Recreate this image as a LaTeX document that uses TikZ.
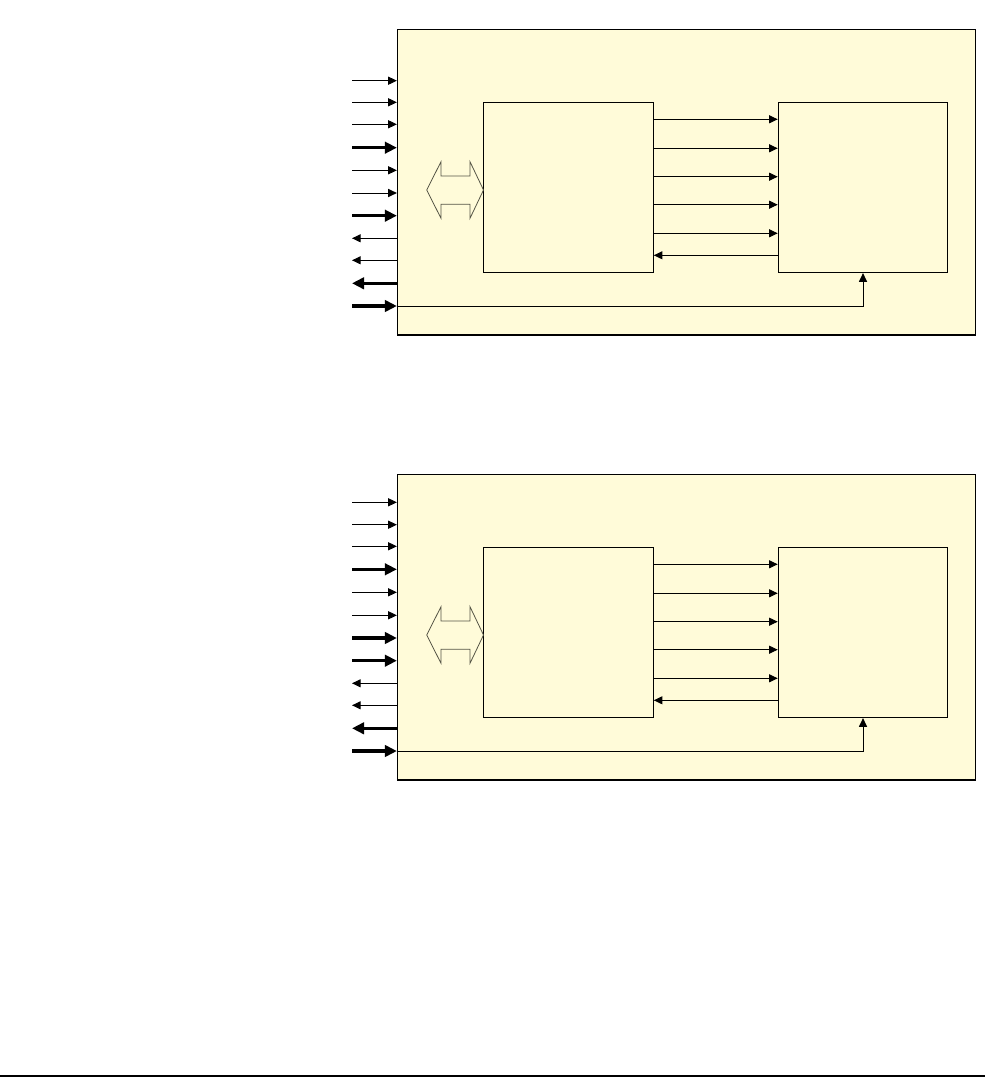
\documentclass[tikz,border=0pt]{standalone}
\usetikzlibrary{arrows.meta}
\definecolor{panelfill}{RGB}{255,251,217}
\definecolor{dblgray}{RGB}{85,85,70}
\tikzset{
  box/.style={draw=black, line width=0.9pt, inner sep=0pt, fill=panelfill,
    minimum width=433.5pt, minimum height=229.1pt},
  unit/.style={draw=black, line width=0.9pt, inner sep=0pt,
    minimum width=127pt, minimum height=127.5pt},
  sigin/.style={line width=0.75pt, -{Triangle[length=6.5pt,width=6pt]}},
  sigbig/.style={line width=2.5pt, -{Triangle[length=9pt,width=8.5pt]}},
  sigout/.style={line width=0.75pt, {Triangle[length=6.5pt,width=6pt]}-},
  sigbigout/.style={line width=2.5pt, {Triangle[length=9pt,width=8.5pt]}-},
  link/.style={line width=0.75pt, -{Triangle[length=6.5pt,width=6pt]}},
  dbl/.style={draw=dblgray, line width=0.6pt, line join=miter},
}
\newcommand\drawpanel[3]{%
  \begin{scope}[shift={(0,#2)}]
    \node[box] (outer#1) at (686.5,182.25) {};
    \node[unit] (left#1) at (568.5,187.5) {};
    \node[unit] (right#1) at (863,187.5) {};
    \foreach \yy/\kk in {#3}{
      \coordinate (s) at (352,\yy);
      \draw[\kk] (s) -- (s -| outer#1.west);
    }
    \coordinate (feed#1) at (352,306);
    \draw[sigbig] (feed#1) -- (feed#1 -| outer#1.west);
    \draw[link] (feed#1 -| outer#1.west) -- (feed#1 -| right#1.south) -- (right#1.south);
    \foreach \yy in {119.3,148.3,176.7,204.7,233.3}{
      \coordinate (m) at (600,\yy);
      \draw[link] (m -| left#1.east) -- (m -| right#1.west);
    }
    \coordinate (back#1) at (700,255.3);
    \draw[link] (back#1 -| right#1.west) -- (back#1 -| left#1.east);
    \draw[dbl] (426.7,190) -- (441,161.7) -- (441,176) -- (470,176) -- (470,161.7)
      -- (483.5,190) -- (470,218.3) -- (470,204.3) -- (441,204.3) -- (441,218.3) -- cycle;
  \end{scope}}
\begin{document}
\begin{tikzpicture}[x=0.75pt,y=-0.75pt]
  \useasboundingbox (0,0) rectangle (985,1077);
  \drawpanel{A}{0}{80.7/sigin,102.3/sigin,124.3/sigin,147.7/sigbig,170.3/sigin,193/sigin,215.7/sigbig,238.3/sigout,260.3/sigout,283.3/sigbigout}
  \drawpanel{B}{445}{57.3/sigin,79.7/sigin,101.3/sigin,124.3/sigbig,147.3/sigin,170.3/sigin,193/sigbig,215.7/sigbig,238.3/sigout,260.3/sigout,283.3/sigbigout}
  \draw[line width=1.5pt] (0,1075.7) -- (985,1075.7);
\end{tikzpicture}
\end{document}
